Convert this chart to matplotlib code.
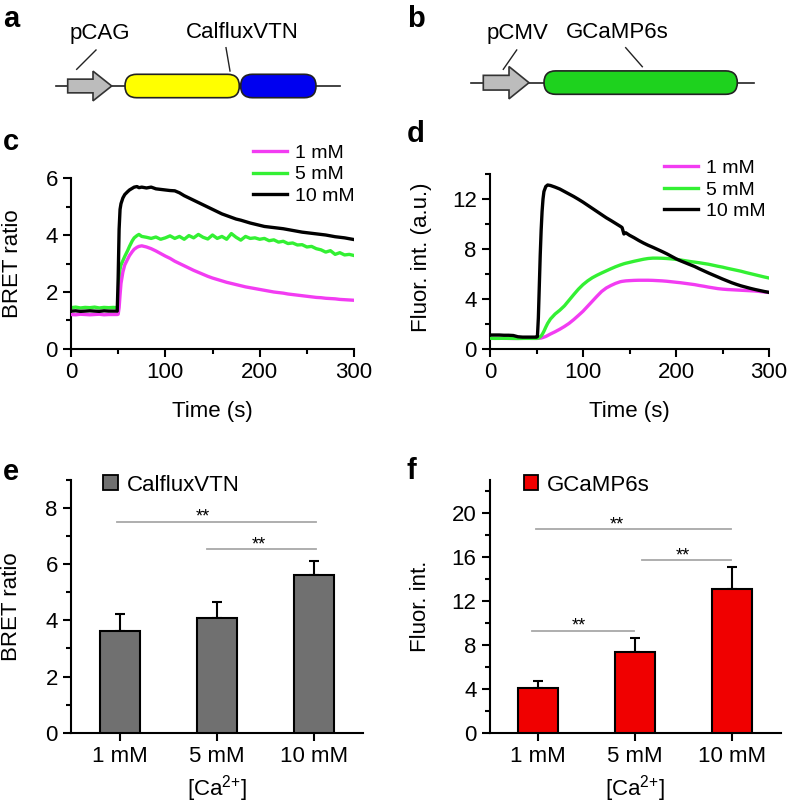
import numpy as np
import matplotlib
matplotlib.use("Agg")
import matplotlib.pyplot as plt
from matplotlib.patches import FancyBboxPatch, Polygon, Patch

plt.rcParams["font.family"] = ["Liberation Sans", "DejaVu Sans"]
plt.rcParams["mathtext.fontset"] = "custom"
plt.rcParams["mathtext.rm"] = "Liberation Sans"
plt.rcParams["mathtext.default"] = "regular"

W, H = 788, 805

# ---- panel c: BRET ratio traces (CalfluxVTN) ----
T_C = [0, 5, 10, 15, 20, 25, 30, 35, 40, 45,
       49, 50, 51, 52, 53, 55, 57, 60, 62, 65, 67, 70, 72, 75] + list(range(80, 301, 5))
C_1MM = [1.21, 1.20, 1.22, 1.21, 1.20, 1.21, 1.22, 1.20, 1.21, 1.21,
         1.21, 1.22, 1.45, 1.90, 2.30, 2.70, 2.95, 3.15, 3.28, 3.42, 3.50, 3.57, 3.60, 3.62,
         3.58, 3.52, 3.44, 3.35, 3.26, 3.18, 3.08, 3.00, 2.92, 2.84, 2.76, 2.69, 2.62, 2.55,
         2.49, 2.44, 2.39, 2.34, 2.30, 2.26, 2.22, 2.18, 2.15, 2.12, 2.09, 2.06, 2.03, 2.00,
         1.98, 1.96, 1.93, 1.91, 1.89, 1.87, 1.85, 1.83, 1.81, 1.80, 1.78, 1.77, 1.76, 1.74,
         1.73, 1.72, 1.71]
C_5MM = [1.45, 1.47, 1.44, 1.46, 1.45, 1.47, 1.44, 1.46, 1.45, 1.46,
         1.45, 1.50, 2.30, 2.80, 2.95, 3.10, 3.25, 3.45, 3.60, 3.80, 3.90, 3.98, 4.02, 3.95,
         3.92, 3.88, 3.93, 3.85, 3.90, 3.97, 3.88, 3.95, 3.85, 3.98, 3.90, 4.02, 3.92, 3.86,
         4.00, 3.88, 3.95, 3.85, 4.05, 3.92, 3.82, 3.95, 3.88, 3.90, 3.85, 3.88, 3.80, 3.83,
         3.75, 3.78, 3.70, 3.72, 3.65, 3.66, 3.58, 3.60, 3.52, 3.48, 3.40, 3.45, 3.32, 3.38,
         3.30, 3.32, 3.28]
C_10MM = [1.33, 1.34, 1.32, 1.33, 1.34, 1.33, 1.32, 1.34, 1.33, 1.33,
          1.33, 2.50, 4.20, 4.90, 5.10, 5.30, 5.42, 5.52, 5.58, 5.64, 5.68, 5.70, 5.66, 5.68,
          5.65, 5.68, 5.62, 5.60, 5.58, 5.56, 5.55, 5.48, 5.38, 5.30, 5.22, 5.14, 5.06, 4.98,
          4.90, 4.82, 4.74, 4.68, 4.62, 4.56, 4.52, 4.47, 4.42, 4.38, 4.34, 4.30, 4.28, 4.26,
          4.24, 4.22, 4.19, 4.16, 4.13, 4.10, 4.08, 4.06, 4.04, 4.02, 4.00, 3.97, 3.94, 3.92,
          3.90, 3.87, 3.84]

# ---- panel d: fluorescence traces (GCaMP6s) ----
T_D = ([0, 5, 10, 15, 20, 25, 30, 35, 40, 45,
        50, 51, 52, 53, 54, 55, 56, 57, 58, 60, 62, 65]
       + list(range(70, 141, 5)) + [142, 144, 146] + list(range(150, 301, 5)))
D_1MM = [0.85, 0.85, 0.86, 0.85, 0.85, 0.84, 0.85, 0.85, 0.86, 0.85,
         0.85, 0.85, 0.86, 0.86, 0.87, 0.88, 0.90, 0.92, 0.95, 1.00, 1.08, 1.20,
         1.38, 1.58, 1.80, 2.05, 2.35, 2.68, 3.02, 3.42, 3.82, 4.22, 4.60, 4.88, 5.08, 5.25, 5.38,
         5.41, 5.43, 5.45,
         5.47, 5.49, 5.50, 5.50, 5.50, 5.49, 5.47, 5.45, 5.42, 5.38, 5.34, 5.30, 5.25, 5.20,
         5.15, 5.08, 5.02, 4.95, 4.89, 4.83, 4.79, 4.76, 4.74, 4.72, 4.70, 4.68, 4.66, 4.64,
         4.60, 4.56, 4.52]
D_5MM = [0.86, 0.85, 0.85, 0.86, 0.85, 0.85, 0.84, 0.85, 0.85, 0.85,
         0.85, 0.86, 0.88, 0.92, 0.98, 1.05, 1.15, 1.28, 1.42, 1.75, 2.05, 2.40,
         2.80, 3.10, 3.45, 3.90, 4.35, 4.78, 5.15, 5.45, 5.70, 5.90, 6.08, 6.25, 6.42, 6.58, 6.72,
         6.77, 6.82, 6.86,
         6.93, 7.02, 7.10, 7.18, 7.24, 7.27, 7.27, 7.26, 7.24, 7.21, 7.17, 7.12, 7.06, 7.00,
         6.95, 6.90, 6.84, 6.78, 6.70, 6.62, 6.55, 6.46, 6.38, 6.30, 6.22, 6.12, 6.03, 5.94,
         5.85, 5.76, 5.68]
D_10MM = [1.12, 1.12, 1.12, 1.10, 1.10, 1.08, 0.98, 0.95, 0.95, 0.95,
          0.95, 1.00, 2.50, 5.00, 7.50, 9.50, 11.00, 12.00, 12.60, 13.00, 13.12, 13.08,
          12.95, 12.80, 12.60, 12.40, 12.20, 11.98, 11.75, 11.50, 11.25, 11.00, 10.75, 10.50,
          10.28, 10.05, 9.82,
          9.72, 9.20, 9.30,
          9.10, 8.90, 8.68, 8.48, 8.30, 8.14, 7.97, 7.80, 7.62, 7.42, 7.22, 7.05, 6.90, 6.75,
          6.60, 6.42, 6.25, 6.08, 5.92, 5.76, 5.60, 5.45, 5.30, 5.17, 5.05, 4.95, 4.85, 4.76,
          4.68, 4.60, 4.53]

# ---- panels e, f: peak responses ----
CONC = ["1 mM", "5 mM", "10 mM"]
E_MEAN = [3.62, 4.07, 5.62]
E_ERR = [0.60, 0.59, 0.51]
F_MEAN = [4.10, 7.36, 13.10]
F_ERR = [0.64, 1.27, 1.98]
E_SIG_X0 = [-0.03, 0.90]
E_SIG_X1 = [2.02, 2.02]
E_SIG_Y = [7.51, 6.53]
E_STAR_X = [0.85, 1.43]
F_SIG_X0 = [-0.02, 1.07, -0.06]
F_SIG_X1 = [1.99, 1.99, 0.99]
F_SIG_Y = [18.54, 15.68, 9.27]
F_STAR_X = [0.81, 1.49, 0.42]

MAGENTA = "#f23cf2"
GREEN = "#33f033"
FS = 16


def px_axes(fig, l, t, r, b):
    return fig.add_axes([l / W, 1 - b / H, (r - l) / W, (b - t) / H])


def style_axes(ax):
    for s in ("top", "right"):
        ax.spines[s].set_visible(False)
    for s in ("left", "bottom"):
        ax.spines[s].set_linewidth(1.5)
    ax.tick_params(which="both", direction="out", width=1.5, labelsize=FS, pad=4)
    ax.tick_params(which="major", length=5.5)
    ax.tick_params(which="minor", length=3.5)


def place_labels(ax, xl, yl, xy, yx, yy=0.5):
    ax.set_xlabel(xl, fontsize=FS, va="center")
    ax.set_ylabel(yl, fontsize=FS, va="center")
    ax.xaxis.set_label_coords(0.5, xy)
    ax.yaxis.set_label_coords(yx, yy)


fig = plt.figure(figsize=(W / 100, H / 100), dpi=100)

# overlay for schematics and panel letters (pixel coordinates)
ov = fig.add_axes([0, 0, 1, 1])
ov.set_xlim(0, W)
ov.set_ylim(H, 0)
ov.axis("off")


def promoter(x0, xb, xt, yc, hb, hh):
    ov.add_patch(Polygon([(x0, yc - hb / 2), (xb, yc - hb / 2), (xb, yc - hh / 2),
                          (xt, yc), (xb, yc + hh / 2), (xb, yc + hb / 2), (x0, yc + hb / 2)],
                         closed=True, fc="#bcbcbc", ec="#333333", lw=1.2, zorder=3))


def pill(x0, x1, y0, h, color):
    ov.add_patch(FancyBboxPatch((x0, y0), x1 - x0, h,
                                boxstyle=f"round,pad=0,rounding_size={h / 2}",
                                fc=color, ec="#222222", lw=1.2, zorder=3))


# panel a
ov.plot([56, 340], [86, 86], color="#222222", lw=1.2, zorder=1)
promoter(67.7, 93, 111.7, 86, 13.7, 29.7)
pill(125, 239.3, 74.3, 23.4, "#ffff00")
pill(240.7, 316, 74.3, 23.4, "#0000f0")
ov.plot([76.7, 96], [69.3, 50], color="#222222", lw=1.0)
ov.plot([226, 230], [47.7, 71], color="#222222", lw=1.0)
ov.text(100, 33, "pCAG", fontsize=FS, ha="center", va="center")
ov.text(242.7, 33, "CalfluxVTN", fontsize=FS, ha="center", va="center")

# panel b
ov.plot([470.7, 754], [82.7, 82.7], color="#222222", lw=1.2, zorder=1)
promoter(483.3, 509, 529, 82.7, 14.7, 32.3)
pill(544, 737.3, 70.9, 23.4, "#1ed21e")
ov.plot([503.3, 516.7], [69.3, 50], color="#222222", lw=1.0)
ov.plot([625.7, 642.3], [47.7, 66.7], color="#222222", lw=1.0)
ov.text(517.3, 33, "pCMV", fontsize=FS, ha="center", va="center")
ov.text(617.3, 33, "GCaMP6s", fontsize=FS, ha="center", va="center")

for letter, x, y in [("a", 3, 27), ("b", 407, 27), ("c", 3, 150),
                     ("d", 407, 142), ("e", 3, 480), ("f", 407, 479)]:
    ov.text(x, y, letter, fontsize=21, fontweight="bold", ha="left", va="baseline")

# panel c
axc = px_axes(fig, 71, 178, 354, 349)
style_axes(axc)
axc.plot(T_C, C_5MM, color=GREEN, lw=2.4, label="5 mM", zorder=2)
axc.plot(T_C, C_1MM, color=MAGENTA, lw=2.4, label="1 mM", zorder=3)
axc.plot(T_C, C_10MM, color="black", lw=2.4, label="10 mM", zorder=4)
axc.set_xlim(0, 300)
axc.set_ylim(0, 6)
axc.set_xticks([0, 100, 200, 300])
axc.set_xticks([50, 150, 250], minor=True)
axc.set_yticks([0, 2, 4, 6])
axc.set_yticks([1, 3, 5], minor=True)
place_labels(axc, "Time (s)", "BRET ratio", -0.368, -0.208)
h, l = axc.get_legend_handles_labels()
axc.legend([h[1], h[0], h[2]], [l[1], l[0], l[2]], loc="center left",
           bbox_to_anchor=(0.643, 1.02), frameon=False, fontsize=14,
           handlelength=1.75, handletextpad=0.4, labelspacing=0.2, borderpad=0,
           borderaxespad=0)

# panel d
axd = px_axes(fig, 490, 174, 769, 349)
style_axes(axd)
axd.plot(T_D, D_1MM, color=MAGENTA, lw=2.4, label="1 mM", zorder=2)
axd.plot(T_D, D_5MM, color=GREEN, lw=2.4, label="5 mM", zorder=3)
axd.plot(T_D, D_10MM, color="black", lw=2.4, label="10 mM", zorder=4)
axd.set_xlim(0, 300)
axd.set_ylim(0, 14)
axd.set_xticks([0, 100, 200, 300])
axd.set_xticks([50, 150, 250], minor=True)
axd.set_yticks([0, 4, 8, 12])
axd.set_yticks([2, 6, 10, 14], minor=True)
place_labels(axd, "Time (s)", "Fluor. int. (a.u.)", -0.358, -0.246, 0.527)
axd.legend(loc="center left", bbox_to_anchor=(0.624, 0.909), frameon=False, fontsize=14,
           handlelength=1.75, handletextpad=0.4, labelspacing=0.2, borderpad=0,
           borderaxespad=0)


def bar_panel(ax, means, errs, color, label, x0s, x1s, ys, sx, ylim, major, minor,
              ylabel, lab_x, leg_x):
    style_axes(ax)
    x = np.arange(len(CONC))
    ax.bar(x, means, width=0.41, color=color, edgecolor="black", lw=1.5, zorder=3)
    ax.errorbar(x, means, yerr=[np.zeros(len(errs)), errs], fmt="none", ecolor="black",
                elinewidth=1.5, capsize=3.5, capthick=1.5, zorder=2)
    for a, b, y, s in zip(x0s, x1s, ys, sx):
        ax.plot([a, b], [y, y], color="#a8a8a8", lw=1.3, zorder=1)
        ax.text(s, y, "**", fontsize=13, ha="center", va="baseline")
    ax.set_xlim(-0.5, 2.5)
    ax.set_ylim(*ylim)
    ax.set_xticks(x)
    ax.set_xticklabels(CONC)
    ax.set_yticks(major)
    ax.set_yticks(minor, minor=True)
    place_labels(ax, "[Ca$^{2{+}}$]", ylabel, -0.22, lab_x)
    ax.legend([Patch(fc=color, ec="black", lw=1.3)], [label], loc="center left",
              bbox_to_anchor=(leg_x, 0.98), frameon=False, fontsize=FS,
              handlelength=0.65, handleheight=0.65, handletextpad=0.4, borderpad=0,
              borderaxespad=0)


axe = px_axes(fig, 71, 480, 363, 732.7)
bar_panel(axe, E_MEAN, E_ERR, "#707070", "CalfluxVTN", E_SIG_X0, E_SIG_X1, E_SIG_Y,
          E_STAR_X, (0, 9), [0, 2, 4, 6, 8], [1, 3, 5, 7, 9], "BRET ratio", -0.203, 0.11)

axf = px_axes(fig, 489.7, 480, 780.7, 732.7)
bar_panel(axf, F_MEAN, F_ERR, "#f00000", "GCaMP6s", F_SIG_X0, F_SIG_X1, F_SIG_Y,
          F_STAR_X, (0, 23), [0, 4, 8, 12, 16, 20], [2, 6, 10, 14, 18, 22], "Fluor. int.",
          -0.237, 0.118)

fig.savefig("out.png", dpi=100)
